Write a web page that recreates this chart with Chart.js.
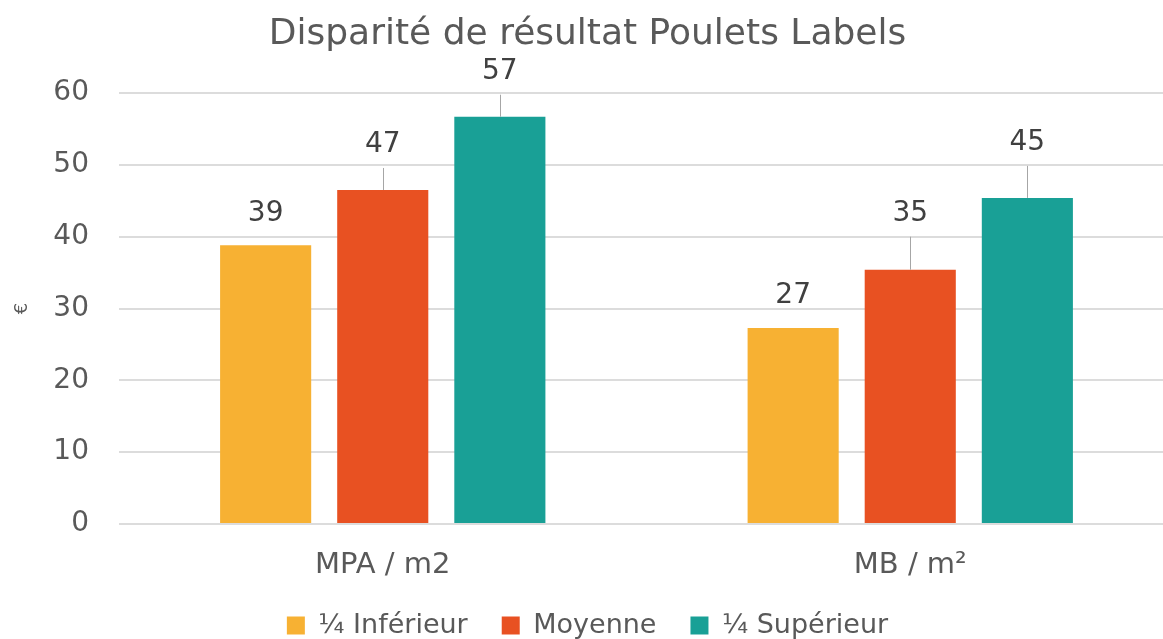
<!DOCTYPE html>
<html lang="fr">
<head>
<meta charset="utf-8">
<title>Disparité de résultat Poulets Labels</title>
<script src="https://cdn.jsdelivr.net/npm/chart.js@4"></script>
<style>
  html, body { margin: 0; padding: 0; background: #fff; }
  #wrap { width: 1163px; height: 639px; }
</style>
</head>
<body>
<div id="wrap"><canvas id="graphique"></canvas></div>
<script>
// Données
const categories = ['MPA / m2', 'MB / m²'];
const series = ['¼ Inférieur', 'Moyenne', '¼ Supérieur'];
const quartInferieur = [38.8, 27.3];
const moyenne = [46.5, 35.4];
const quartSuperieur = [56.7, 45.4];
const etiquettes = [[39, 27], [47, 35], [57, 45]];
const graduations = [0, 10, 20, 30, 40, 50, 60];

const couleurs = ['#F7B133', '#E85122', '#19A096'];
// décalage des étiquettes au-dessus des barres (px), comme dans l'original
const decalages = [[32, 32], [45, 56], [45, 55]];

const police = "'DejaVu Sans', sans-serif";

// Étiquettes de données avec traits de rappel
const etiquettesPlugin = {
  id: 'etiquettes',
  afterDatasetsDraw(chart) {
    const ctx = chart.ctx;
    ctx.save();
    chart.data.datasets.forEach((ds, i) => {
      const meta = chart.getDatasetMeta(i);
      meta.data.forEach((bar, j) => {
        const yTexte = bar.y - decalages[i][j];
        if (decalages[i][j] > 40) {
          ctx.strokeStyle = '#a6a6a6';
          ctx.lineWidth = 1;
          ctx.beginPath();
          ctx.moveTo(Math.round(bar.x) + 0.5, yTexte + 23);
          ctx.lineTo(Math.round(bar.x) + 0.5, bar.y);
          ctx.stroke();
        }
        ctx.fillStyle = '#404040';
        ctx.font = '28px ' + police;
        ctx.textAlign = 'center';
        ctx.textBaseline = 'middle';
        ctx.fillText(String(etiquettes[i][j]), bar.x, yTexte);
      });
    });
    ctx.restore();
  }
};

// La zone de tracé de l'original déborde un peu à droite du cadre
const debordPlugin = {
  id: 'debord',
  afterLayout(chart) {
    const x = chart.scales.x;
    x.right += 11;
    x.width += 11;
    chart.chartArea.right += 11;
    chart.chartArea.width += 11;
    x.configure();
  }
};

new Chart(document.getElementById('graphique'), {
  type: 'bar',
  data: {
    labels: categories,
    datasets: [
      { label: series[0], data: quartInferieur, backgroundColor: couleurs[0] },
      { label: series[1], data: moyenne, backgroundColor: couleurs[1] },
      { label: series[2], data: quartSuperieur, backgroundColor: couleurs[2] }
    ]
  },
  options: {
    responsive: true,
    maintainAspectRatio: false,
    animation: false,
    categoryPercentage: 0.666,
    barPercentage: 0.778,
    layout: { padding: { top: 8, left: 12, right: 0, bottom: 0 } },
    plugins: {
      title: {
        display: true,
        text: 'Disparité de résultat Poulets Labels',
        color: '#595959',
        font: { family: police, size: 36, weight: 'normal' },
        padding: { top: 5.4, bottom: 36.4 }
      },
      legend: {
        position: 'bottom',
        maxHeight: 61,
        labels: {
          color: '#595959',
          font: { family: police, size: 27 },
          boxWidth: 18,
          boxHeight: 18,
          padding: 34
        }
      },
      tooltip: { enabled: false }
    },
    scales: {
      x: {
        afterFit(axis) {
          axis.height = 54;
        },
        grid: { display: false, drawTicks: false },
        border: { display: false },
        ticks: {
          color: '#595959',
          font: { family: police, size: 29, lineHeight: 1 },
          padding: 27
        }
      },
      y: {
        min: 0,
        max: 60,
        afterBuildTicks(axis) {
          axis.ticks = graduations.map(v => ({ value: v }));
        },
        afterFit(axis) {
          axis.width = 107;
        },
        grid: { color: '#dcdcdc', lineWidth: 2, drawTicks: false },
        border: { display: false },
        ticks: {
          color: '#595959',
          font: { family: police, size: 28 },
          padding: 30
        },
        title: {
          display: true,
          text: '€',
          color: '#595959',
          font: { family: police, size: 18 },
          padding: { top: 0, bottom: 0 }
        }
      }
    }
  },
  plugins: [etiquettesPlugin, debordPlugin]
});
</script>
</body>
</html>
